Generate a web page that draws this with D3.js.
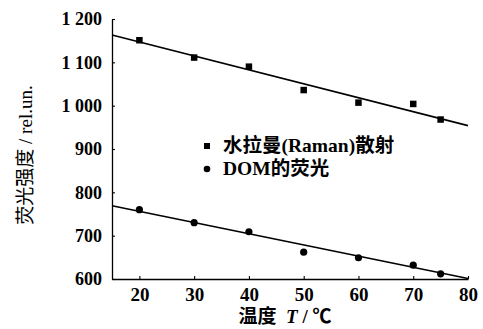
<!DOCTYPE html>
<html>
<head>
<meta charset="utf-8">
<script src="https://cdn.jsdelivr.net/npm/d3@7/dist/d3.min.js"></script>
<style>
  html, body { margin: 0; padding: 0; background: #fff; }
  svg { display: block; }
</style>
</head>
<body>
<div id="chart"></div>
<script>
// temperature dependence of Raman scatter and DOM fluorescence
var temps = [20, 30, 40, 50, 60, 70, 75];
var ramanVals = [1151, 1111, 1090, 1036, 1007, 1004, 968];
var domVals = [760, 730, 709, 662, 649, 632, 612];
var ramanFit = [[15, 1163], [80, 954]];
var domFit = [[15, 769], [80, 601]];
var xTicks = [20, 30, 40, 50, 60, 70, 80];
var yTicks = [600, 700, 800, 900, 1000, 1100, 1200];
var yTickLabels = ["600", "700", "800", "900", "1 000", "1 100", "1 200"];
var legendLabels = ["水拉曼(Raman)散射", "DOM的荧光"];

(function () {
  var W = 483, H = 329;
  var FONT = "'Liberation Serif', 'Times New Roman', 'Noto Sans CJK SC', serif";
  var m = { t: 19, r: 15, b: 50, l: 112 };
  var iw = W - m.l - m.r, ih = H - m.t - m.b;

  var x = d3.scaleLinear().domain([15, 80]).range([0, iw]);
  var y = d3.scaleLinear().domain([600, 1200]).range([ih, 0]);

  var svg = d3.select("#chart").append("svg").attr("width", W).attr("height", H)
    .attr("font-family", FONT);
  var g = svg.append("g").attr("transform", "translate(" + m.l + "," + m.t + ")");

  // axes, ticks inward
  var xAxis = d3.axisBottom(x).tickValues(xTicks).tickSize(-3).tickPadding(7).tickSizeOuter(0);
  var yAxis = d3.axisLeft(y).tickValues(yTicks).tickSize(-3).tickPadding(8).tickSizeOuter(0)
    .tickFormat(function (d, i) { return yTickLabels[i]; });

  var gx = g.append("g").attr("transform", "translate(0," + ih + ")").call(xAxis);
  var gy = g.append("g").call(yAxis);
  [gx, gy].forEach(function (a) {
    a.select(".domain").attr("stroke", "#000").attr("stroke-width", 1.3);
    a.selectAll(".tick line").attr("stroke", "#000").attr("stroke-width", 1.1);
    a.selectAll(".tick text").attr("font-family", FONT).attr("font-size", 18)
      .attr("font-weight", "bold").attr("fill", "#000");
  });
  gx.selectAll(".tick text").attr("font-size", 19).attr("dy", "0.8em");
  gy.selectAll(".tick text").attr("dx", "-2");

  // fit lines
  var line = d3.line().x(function (d) { return x(d[0]); }).y(function (d) { return y(d[1]); });
  g.append("path").attr("d", line(ramanFit)).attr("fill", "none").attr("stroke", "#000").attr("stroke-width", 1.6);
  g.append("path").attr("d", line(domFit)).attr("fill", "none").attr("stroke", "#000").attr("stroke-width", 1.6);

  // markers
  var sq = 6.5;
  temps.forEach(function (t, i) {
    g.append("rect").attr("x", x(t) - sq / 2).attr("y", y(ramanVals[i]) - sq / 2)
      .attr("width", sq).attr("height", sq).attr("fill", "#000");
    g.append("circle").attr("cx", x(t)).attr("cy", y(domVals[i])).attr("r", 3.6).attr("fill", "#000");
  });

  // legend
  var lg = svg.append("g").attr("transform", "translate(207,146)");
  lg.append("rect").attr("x", -3).attr("y", -3).attr("width", 6).attr("height", 6).attr("fill", "#000");
  lg.append("text").attr("x", 16).attr("y", 6).attr("font-size", 19.5).attr("font-weight", "bold")
    .text(legendLabels[0]);
  lg.append("circle").attr("cx", 0).attr("cy", 23).attr("r", 3.3).attr("fill", "#000");
  lg.append("text").attr("x", 16).attr("y", 29).attr("font-size", 19.5).attr("font-weight", "bold")
    .text(legendLabels[1]);

  // axis titles
  svg.append("text").attr("transform", "translate(32,155) rotate(-90)")
    .attr("text-anchor", "middle").attr("font-size", 19).text("荧光强度 / rel.un.");
  var xt = svg.append("text").attr("x", 285).attr("y", 323).attr("text-anchor", "middle")
    .attr("font-size", 19).attr("font-weight", "bold").attr("xml:space", "preserve");
  xt.append("tspan").text("温度  ");
  xt.append("tspan").attr("font-style", "italic").text("T");
  xt.append("tspan").text(" / ℃");
})();
</script>
</body>
</html>
